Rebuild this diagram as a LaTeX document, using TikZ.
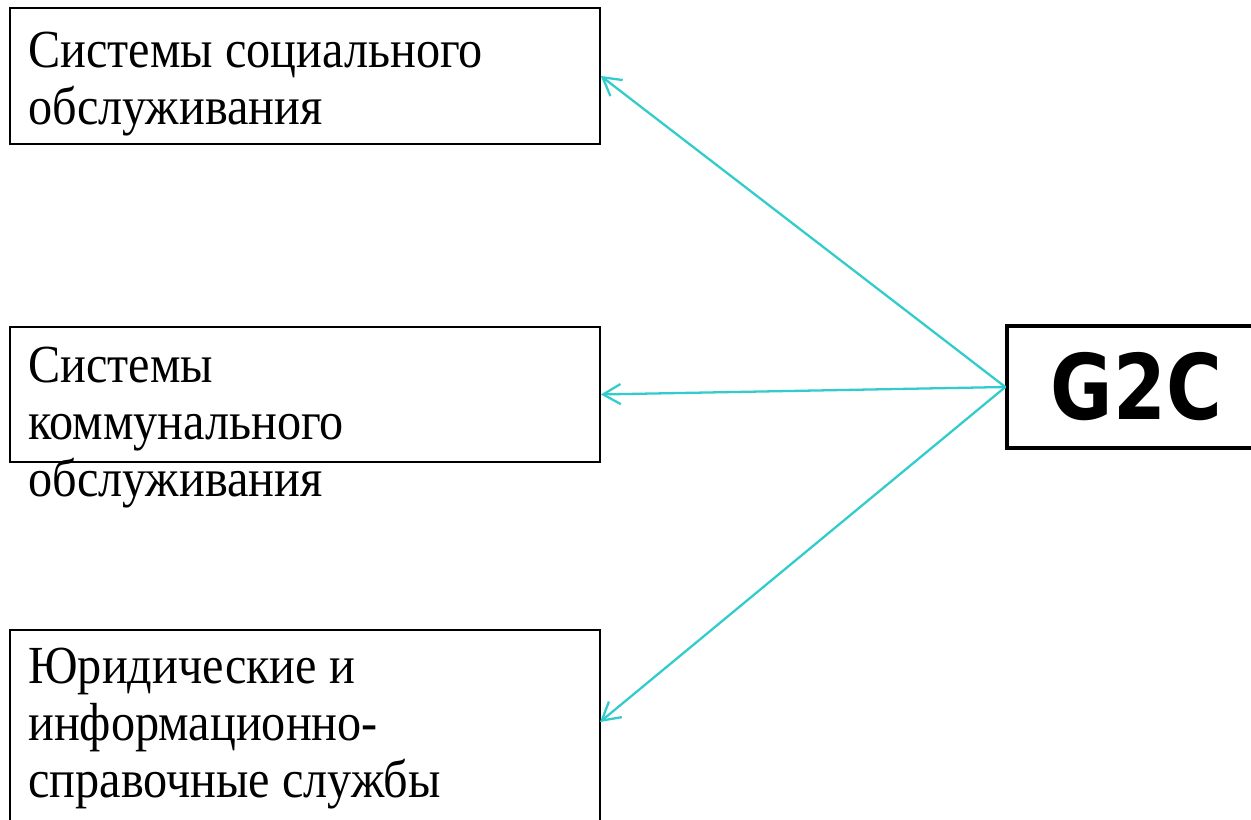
\documentclass[tikz,border=0pt]{standalone}
\usepackage{fontspec}
\usepackage{graphicx}
\setmainfont{Liberation Serif}[FakeStretch=0.9]
\newfontfamily\gtcfont{DejaVu Sans}
\usetikzlibrary{arrows.meta}
\definecolor{linkcol}{RGB}{51,204,204}

\begin{document}
\begin{tikzpicture}[x=0.02cm,y=-0.02cm,
  box/.style={draw,line width=1.1pt,anchor=north west,inner sep=0pt,minimum width=11.8cm},
  txt/.style={anchor=north west,inner sep=0pt,align=left,font=\fontsize{30.5}{32.4}\selectfont},
  hub/.style={draw,line width=1.9pt,minimum width=5.18cm,minimum height=2.44cm,inner sep=0pt,font=\gtcfont\bfseries\fontsize{51.5}{55}\selectfont},
  link/.style={draw=linkcol,line width=1.3pt,-{Straight Barb[length=10pt,width=11.5pt]}}]
  \useasboundingbox (0,0) rectangle (1251,819);
  % left boxes
  \node[box,minimum height=2.72cm] (social) at (9,7) {};
  \node[box,minimum height=2.7cm] (communal) at (9,326) {};
  \node[box,minimum height=4.1cm] (legal) at (9,629) {};
  \node[txt] (social-text) at (28,32) {Системы социального\\обслуживания};
  \node[txt] (communal-text) at (28,347) {Системы\\коммунального\\обслуживания};
  \node[txt] (legal-text) at (28,648) {Юридические и\\информационно-\\справочные службы};
  % G2C
  \node[hub] (g2c) at (1136.5,387) {\scalebox{0.84}[1]{G2C}};
  \coordinate (legal-in) at (600,722);
  \draw[link] (g2c.west) -- (social.east);
  \draw[link] (g2c.west) -- (communal.east);
  \draw[link] (g2c.west) -- (legal-in);
\end{tikzpicture}
\end{document}
